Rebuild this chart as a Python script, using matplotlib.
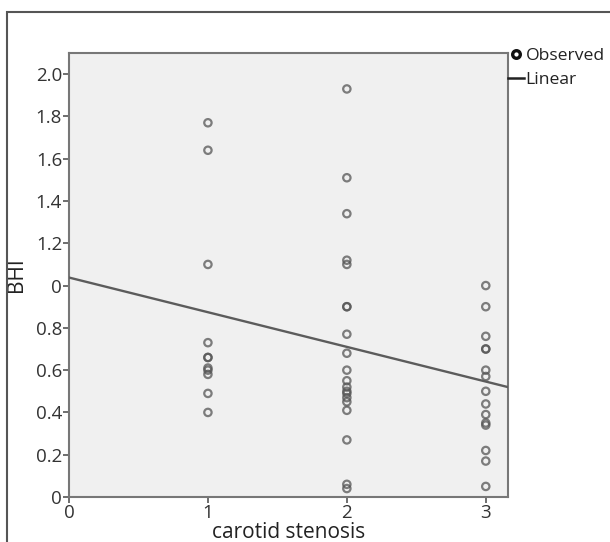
import matplotlib
matplotlib.use("Agg")
import matplotlib.pyplot as plt
from matplotlib.lines import Line2D
from matplotlib.patches import Rectangle
import numpy as np

plt.rcParams['font.family'] = ['Open Sans', 'DejaVu Sans']

# Data
stenosis_1 = [1.77, 1.64, 1.10, 0.73, 0.66, 0.66, 0.61, 0.60, 0.58, 0.49, 0.40]
stenosis_2 = [1.93, 1.51, 1.34, 1.12, 1.10, 0.90, 0.90, 0.77, 0.68, 0.60, 0.55,
              0.52, 0.50, 0.49, 0.47, 0.45, 0.41, 0.27, 0.06, 0.04]
stenosis_3 = [1.00, 0.90, 0.76, 0.70, 0.70, 0.60, 0.57, 0.50, 0.44, 0.39,
              0.35, 0.34, 0.22, 0.17, 0.05]
fit_intercept = 1.038
fit_slope = -0.164
y_ticks = [0, 0.2, 0.4, 0.6, 0.8, 1.0, 1.2, 1.4, 1.6, 1.8, 2.0]
y_tick_labels = ["0", "0.2", "0.4", "0.6", "0.8", "0", "1.2", "1.4", "1.6", "1.8", "2.0"]
x_ticks = [0, 1, 2, 3]
x_tick_labels = ["0", "1", "2", "3"]

W, H = 610, 542
fig = plt.figure(figsize=(W / 100, H / 100), dpi=100)
fig.patch.set_facecolor('white')

ax = fig.add_axes([69 / W, 1 - 497 / H, (508 - 69) / W, (497 - 53) / H])
ax.set_facecolor('#f0f0f0')
ax.set_xlim(0, 3.16)
ax.set_ylim(0, 2.10)

groups = [(1, stenosis_1), (2, stenosis_2), (3, stenosis_3)]
for xv, vals in groups:
    ax.scatter([xv] * len(vals), vals, s=28, facecolors='none',
               edgecolors='#555555', linewidths=1.6, alpha=0.75, zorder=3)

xs = np.array([0, 3.16])
ax.plot(xs, fit_intercept + fit_slope * xs, color='#5c5c5c', lw=1.7, zorder=4)

ax.set_yticks(y_ticks)
ax.set_yticklabels(y_tick_labels)
ax.set_xticks(x_ticks)
ax.set_xticklabels(x_tick_labels)
ax.tick_params(axis='both', direction='out', length=4, width=1.2,
               color='#555555', labelsize=13.5, labelcolor='#333333', pad=1)

for sp in ax.spines.values():
    sp.set_color('#777777')
    sp.set_linewidth(1.5)

ax.set_xlabel('carotid stenosis', fontsize=15, color='#222222', labelpad=0)
ax.set_ylabel('BHI', fontsize=15, color='#222222', labelpad=6)

# Legend
handles = [Line2D([], [], marker='o', linestyle='none', markerfacecolor='none',
                  markeredgecolor='#111111', markeredgewidth=2.4, markersize=5.5),
           Line2D([], [], color='#222222', lw=1.8)]
leg = fig.legend(handles, ['Observed', 'Linear'], loc='upper left',
                 bbox_to_anchor=(508 / W, 1 - 48 / H), frameon=False,
                 handlelength=0.9, handletextpad=0.1, borderpad=0,
                 labelspacing=0.45, fontsize=12.6, borderaxespad=0)
for t in leg.get_texts():
    t.set_color('#222222')

# Outer border
fig.patches.append(Rectangle((7 / W, -0.05), 1.1, 1 - 12 / H + 0.05,
                             transform=fig.transFigure, fill=False,
                             edgecolor='#555555', linewidth=1.5))

fig.savefig('out.png', dpi=100)
